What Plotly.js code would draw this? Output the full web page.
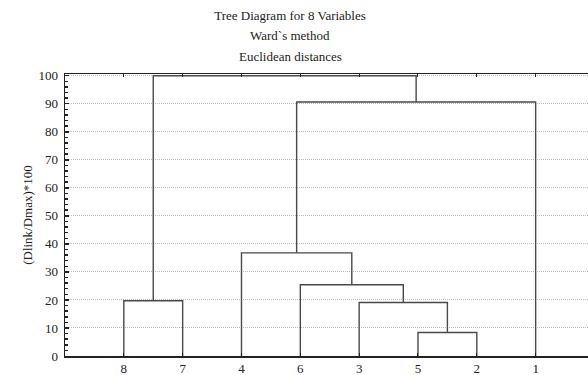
<!DOCTYPE html>
<html>
<head>
<meta charset="utf-8">
<script src="https://cdn.plot.ly/plotly-3.0.1.min.js"></script>
<style>html,body{margin:0;padding:0;overflow:hidden;background:#fff}</style>
</head>
<body>
<div id="chart" style="width:588px;height:375px"></div>
<script>
// Leaf order along the x axis
var leafLabels = ['8', '7', '4', '6', '3', '5', '2', '1'];
// Merges: left member, right member (leaf label "L:x" or merge index "M:n"), linkage height
var mergeLeft   = ['L:5', 'L:3', 'L:8', 'L:6', 'L:4', 'M:4', 'M:2'];
var mergeRight  = ['L:2', 'M:0', 'L:7', 'M:1', 'M:3', 'L:1', 'M:5'];
var mergeHeight = [8.4, 19.1, 19.7, 25.4, 36.8, 90.6, 100];
var yTicks = [0, 10, 20, 30, 40, 50, 60, 70, 80, 90, 100];

var leafPos = {};
leafLabels.forEach(function (l, i) { leafPos[l] = i + 1; });
var mPos = [], mH = [];
function node(ref) {
  var parts = ref.split(':');
  if (parts[0] === 'L') return { x: leafPos[parts[1]], y: 0 };
  var k = +parts[1];
  return { x: mPos[k], y: mH[k] };
}
var xs = [], ys = [];
for (var i = 0; i < mergeHeight.length; i++) {
  var a = node(mergeLeft[i]), b = node(mergeRight[i]), h = mergeHeight[i];
  xs.push(a.x, a.x, b.x, b.x, null);
  ys.push(a.y, h, h, b.y, null);
  mPos.push((a.x + b.x) / 2);
  mH.push(h);
}

var font = 'Liberation Serif, Times New Roman, serif';
var data = [{
  type: 'scatter', mode: 'lines', x: xs, y: ys,
  line: { color: '#4a4a4a', width: 1.4 }, hoverinfo: 'skip', showlegend: false
}];
var layout = {
  width: 588, height: 375,
  margin: { l: 65, r: 0, t: 74, b: 19 },
  paper_bgcolor: '#fff', plot_bgcolor: '#fff',
  font: { family: font, size: 13, color: '#222' },
  title: {
    text: 'Tree Diagram for 8 Variables',
    font: { family: font, size: 13, color: '#222' },
    x: 0.494, xref: 'paper', xanchor: 'center', y: 0.96, yanchor: 'middle', yref: 'container'
  },
  annotations: [
    { text: 'Ward`s method', xref: 'paper', yref: 'paper', x: 0.5, y: 1, showarrow: false,
      xanchor: 'center', yanchor: 'middle', font: { family: font, size: 13, color: '#222' } },
    { text: 'Euclidean distances', xref: 'paper', yref: 'paper', x: 0.5, y: 1, showarrow: false,
      xanchor: 'center', yanchor: 'middle', font: { family: font, size: 13, color: '#222' } }
  ],
  xaxis: {
    range: [0, 8.89], tickvals: leafLabels.map(function (l, i) { return i + 1; }), ticktext: leafLabels,
    ticks: 'inside', ticklen: 3, tickcolor: '#222', tickwidth: 1,
    showline: true, linecolor: '#222', linewidth: 1.5, mirror: 'ticks',
    showgrid: false, zeroline: false, fixedrange: true,
    tickfont: { family: font, size: 13, color: '#222' }
  },
  yaxis: {
    range: [0, 100.6], tickvals: yTicks, ticks: 'inside', ticklen: 4, tickcolor: '#222', tickwidth: 1.5,
    minor: { dtick: 2, ticks: 'inside', ticklen: 3, tickcolor: '#222', tickwidth: 1.5, showgrid: false },
    showline: true, linecolor: '#222', linewidth: 1.5, mirror: false,
    showgrid: true, gridcolor: '#bdbdbd', griddash: '1px,1px', gridwidth: 1,
    zeroline: false, fixedrange: true, ticklabelstandoff: 3,
    tickfont: { family: font, size: 13, color: '#222' },
    title: { text: '(Dlink/Dmax)*100', font: { family: font, size: 13, color: '#222' }, standoff: 3 }
  }
};
// place subtitle annotations in pixel terms relative to the plot area (paper y above 1)
var plotH = 375 - 74 - 19;
layout.annotations[0].y = 1 + (74 - 36) / plotH;
layout.annotations[1].y = 1 + (74 - 56) / plotH;
layout.annotations[0].x = (290 - 65) / (588 - 65);
layout.annotations[1].x = (290 - 65) / (588 - 65);
layout.title.x = (290 - 65) / (588 - 65);
layout.title.y = 1 - 15 / 375;
Plotly.newPlot('chart', data, layout, { displayModeBar: false, staticPlot: true });
</script>
</body>
</html>
